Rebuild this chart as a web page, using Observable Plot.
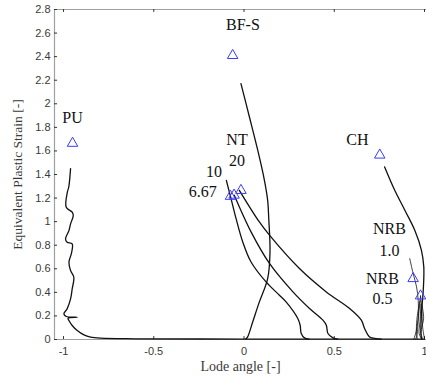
<!DOCTYPE html>
<html><head><meta charset="utf-8">
<script src="https://cdn.jsdelivr.net/npm/d3@7"></script>
<script src="https://cdn.jsdelivr.net/npm/@observablehq/plot@0.6"></script>
<style>body{margin:0;background:#fff}</style>
</head><body><div id="chart"></div>
<script>
const xTicks = [-1, -0.5, 0, 0.5, 1];
const xTickLabels = ["-1", "-0.5", "0", "0.5", "1"];
const yTicks = [0, 0.2, 0.4, 0.6, 0.8, 1, 1.2, 1.4, 1.6, 1.8, 2, 2.2, 2.4, 2.6, 2.8];
const yTickLabels = ["0", "0.2", "0.4", "0.6", "0.8", "1", "1.2", "1.4", "1.6", "1.8", "2", "2.2", "2.4", "2.6", "2.8"];

// loading paths [Lode angle, equivalent plastic strain]
const pathPU = [[-0.961,1.450],[-0.971,1.294],[-0.979,1.249],[-0.985,1.122],[-0.952,1.080],[-0.946,1.052],[-0.961,0.981],[-0.970,0.924],[-0.989,0.853],[-0.980,0.825],[-0.952,0.811],[-0.957,0.726],[-0.970,0.656],[-0.961,0.585],[-0.943,0.528],[-0.952,0.429],[-0.961,0.344],[-0.980,0.260],[-0.998,0.217],[-0.985,0.195],[-0.924,0.189],[-0.975,0.180],[-0.970,0.161],[-0.952,0.119],[-0.924,0.076],[-0.887,0.039],[-0.850,0.020],[-0.794,0.011],[-0.6,0.006],[0,0.004],[0.5,0.004],[1.0,0.004]];
const pathBFS = [[-0.017,2.171],[0.030,1.888],[0.076,1.606],[0.113,1.351],[0.131,1.181],[0.137,1.026],[0.144,0.743],[0.131,0.517],[0.085,0.319],[0.048,0.149],[0.020,0.022],[0.010,0.004]];
const pathNT667 = [[-0.098,1.35],[-0.072,1.196],[-0.044,1.026],[-0.007,0.828],[0.039,0.658],[0.122,0.489],[0.196,0.376],[0.233,0.319],[0.298,0.178],[0.311,0.121],[0.317,0.051],[0.335,0.014],[0.36,0.004]];
const pathNT10 = [[-0.054,1.224],[0.039,0.913],[0.141,0.645],[0.271,0.404],[0.363,0.263],[0.437,0.164],[0.456,0.121],[0.465,0.051],[0.493,0.014],[0.52,0.004]];
const pathNT20 = [[-0.026,1.266],[0.085,0.997],[0.141,0.885],[0.307,0.602],[0.456,0.404],[0.585,0.263],[0.650,0.164],[0.668,0.093],[0.696,0.022],[0.733,0.008],[0.76,0.004]];
const pathCH = [[0.779,1.464],[0.835,1.266],[0.891,1.097],[0.946,0.927],[0.983,0.757],[0.996,0.616],[0.993,0.418],[0.983,0.221],[0.980,0.051],[0.983,0.004]];
const pathNRB1 = [[0.918,0.687],[0.937,0.56],[0.956,0.446],[0.965,0.333],[0.965,0.164],[0.956,0.022],[0.95,0.003]];
const pathNRB2 = [[0.978,0.37],[0.97,0.25],[0.96,0.12],[0.945,0.02],[0.94,0.003]];
const pathNRB3 = [[0.978,0.37],[0.985,0.25],[0.99,0.1],[1.0,0.003]];
const pathNRB4 = [[0.975,0.33],[0.96,0.2],[0.955,0.08],[0.96,0.003]];
const pathNRB5 = [[0.98,0.3],[0.975,0.15],[0.97,0.05],[0.985,0.003]];
const pathNRB6 = [[0.985,0.3],[0.995,0.18],[0.98,0.06],[0.99,0.003]];

// failure points
const markerX = [-0.95, -0.063, -0.075, -0.055, -0.017, 0.752, 0.937, 0.978];
const markerY = [1.665, 2.41, 1.215, 1.225, 1.265, 1.565, 0.517, 0.37];

// annotations
const labelText = ["PU", "BF-S", "NT", "20", "10", "6.67", "CH", "NRB", "1.0", "NRB", "0.5"];
const labelX = [-0.95, -0.006, -0.039, -0.039, -0.167, -0.228, 0.628, 0.806, 0.806, 0.767, 0.767];
const labelY = [1.877, 2.667, 1.69, 1.512, 1.419, 1.249, 1.69, 0.936, 0.749, 0.511, 0.342];

const thick = [pathPU, pathBFS, pathNT667, pathNT10, pathNT20, pathCH];
const thin = [pathNRB1, pathNRB2, pathNRB3, pathNRB4, pathNRB5, pathNRB6];
const toRows = arr => arr.flatMap((c, i) => c.map(([x, y]) => ({x, y, id: i})));
const thickRows = toRows(thick);
const thinRows = toRows(thin);
const markers = markerX.map((x, i) => ({x, y: markerY[i]}));
const labels = labelText.map((t, i) => ({t, x: labelX[i], y: labelY[i]}));

const serif = "Liberation Serif, Times New Roman, serif";
const chart = Plot.plot({
  width: 426, height: 385,
  marginLeft: 54, marginRight: 0, marginTop: 9, marginBottom: 46,
  style: {fontFamily: "Liberation Sans, Arial, sans-serif", fontSize: "11px", color: "#3a3a3a", background: "#fff"},
  x: {domain: [-1.05, 1.011]},
  y: {domain: [0, 2.8]},
  marks: [
    Plot.ruleY([2.8], {stroke: "#a0a0a0", strokeWidth: 1.2}),
    Plot.ruleY([0], {stroke: "#a0a0a0", strokeWidth: 1.2}),
    Plot.ruleX([-1.05], {stroke: "#a0a0a0", strokeWidth: 1.2}),
    Plot.ruleX(xTicks, {x: d => d, y1: 0, y2: 0.025, stroke: "#333"}),
    Plot.ruleX(xTicks, {x: d => d, y1: 2.775, y2: 2.8, stroke: "#333"}),
    Plot.ruleY(yTicks, {y: d => d, x1: -1.05, x2: -1.033, stroke: "#333"}),
    Plot.axisX({ticks: xTicks, tickFormat: d => xTickLabels[xTicks.indexOf(d)], tickSize: 0, tickPadding: 8, label: null}),
    Plot.axisY({ticks: yTicks, tickFormat: d => yTickLabels[yTicks.indexOf(d)], tickSize: 0, tickPadding: 4, label: null}),
    Plot.axisX({ticks: [], label: "Lode angle [-]", labelAnchor: "center", labelArrow: "none", labelOffset: 31, fontFamily: serif, fontSize: 14, tickSize: 0}),
    Plot.axisY({ticks: [], label: "Equivalent Plastic Strain [-]", labelAnchor: "center", labelArrow: "none", labelOffset: 42, fontFamily: serif, fontSize: 13.5, tickSize: 0}),
    Plot.line(thinRows, {x: "x", y: "y", z: "id", stroke: "#111", strokeWidth: 0.8, curve: "catmull-rom"}),
    Plot.line(thickRows, {x: "x", y: "y", z: "id", stroke: "#111", strokeWidth: 1.3, curve: "catmull-rom"}),
    Plot.dot(markers, {x: "x", y: "y", symbol: "triangle", r: 3.9, stroke: "#3a3aff", strokeWidth: 1, fill: "none"}),
    Plot.text(labels, {x: "x", y: "y", text: "t", fontFamily: serif, fontSize: 16, fill: "#111", textAnchor: "middle", lineAnchor: "middle"})
  ]
});
document.getElementById("chart").appendChild(chart);
</script>
</body></html>
